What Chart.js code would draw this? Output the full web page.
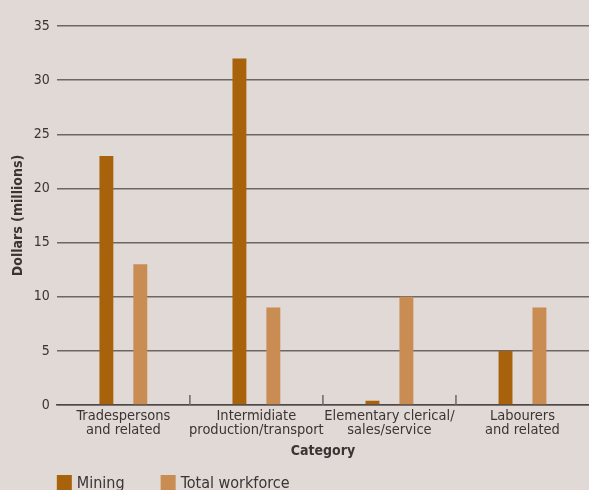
<!DOCTYPE html>
<html>
<head>
<meta charset="utf-8">
<script src="https://cdn.jsdelivr.net/npm/chart.js@4.4.0/dist/chart.umd.min.js"></script>
<style>
  html, body { margin: 0; padding: 0; background: #e0d9d6; overflow: hidden; }
  #wrap { width: 589px; height: 490px; position: relative; }
</style>
</head>
<body>
<div id="wrap"><canvas id="chart"></canvas></div>
<script>
// occupational categories and spend per group, $ millions
const categories = [
  ["Tradespersons", "and related"],
  ["Intermidiate", "production/transport"],
  ["Elementary clerical/", "sales/service"],
  ["Labourers", "and related"]
];
const miningValues = [23, 32, 0.4, 5];
const workforceValues = [13, 9, 10, 9];
const yTicks = [0, 5, 10, 15, 20, 25, 30, 35];

const fontName = "'DejaVu Sans Condensed', 'DejaVu Sans', sans-serif";
const textColor = "#3a3433";
const lineColor = "#6d6666";

// little upward marks on the baseline between categories
const categoryTicks = {
  id: "categoryTicks",
  afterDatasetsDraw(chart) {
    const x = chart.scales.x;
    const ctx = chart.ctx;
    const base = x.top;
    ctx.save();
    ctx.strokeStyle = lineColor;
    ctx.lineWidth = 1.5;
    for (let i = 1; i < categories.length; i++) {
      const px = (x.getPixelForTick(i - 1) + x.getPixelForTick(i)) / 2;
      ctx.beginPath();
      ctx.moveTo(px, base);
      ctx.lineTo(px, base - 10);
      ctx.stroke();
    }
    ctx.restore();
  }
};

// legend along the bottom edge, lined up with the plot's left side
const bottomLegend = {
  id: "bottomLegend",
  afterDraw(chart) {
    const ctx = chart.ctx;
    const box = 15;
    const top = chart.height - 15;
    let x = chart.chartArea.left;
    ctx.save();
    ctx.font = "16px " + fontName;
    ctx.textBaseline = "middle";
    chart.data.datasets.forEach(ds => {
      ctx.fillStyle = ds.backgroundColor;
      ctx.fillRect(x, top, box, box);
      const tx = x + box + 5;
      ctx.fillStyle = textColor;
      ctx.fillText(ds.label, tx, top + 9);
      x = tx + ctx.measureText(ds.label).width + 36;
    });
    ctx.restore();
  }
};

new Chart(document.getElementById("chart"), {
  type: "bar",
  data: {
    labels: categories,
    datasets: [
      {
        label: "Mining",
        data: miningValues,
        backgroundColor: "#a8620c",
        categoryPercentage: 0.51,
        barPercentage: 0.41
      },
      {
        label: "Total workforce",
        data: workforceValues,
        backgroundColor: "#c98c52",
        categoryPercentage: 0.51,
        barPercentage: 0.41
      }
    ]
  },
  options: {
    responsive: true,
    maintainAspectRatio: false,
    animation: false,
    layout: { padding: { left: 10, right: -2, top: 26, bottom: 30 } },
    plugins: {
      legend: { display: false },
      tooltip: { enabled: false }
    },
    scales: {
      x: {
        grid: { display: false, drawTicks: false },
        border: { color: "#4e4848", width: 1.5 },
        ticks: {
          color: textColor,
          font: { family: fontName, size: 14.5, lineHeight: 0.97 },
          padding: 4,
          maxRotation: 0,
          autoSkip: false
        },
        title: {
          display: true,
          text: "Category",
          color: textColor,
          font: { family: fontName, size: 14, weight: "bold" },
          padding: { top: 2, bottom: 0 }
        }
      },
      y: {
        min: 0,
        max: 35,
        afterBuildTicks(axis) {
          axis.ticks = yTicks.map(v => ({ value: v }));
        },
        grid: {
          color: lineColor,
          lineWidth: 1.5,
          drawTicks: false
        },
        border: { display: false },
        ticks: {
          color: textColor,
          font: { family: fontName, size: 14 },
          padding: 7
        },
        title: {
          display: true,
          text: "Dollars (millions)",
          color: textColor,
          font: { family: fontName, size: 14, weight: "bold" },
          padding: { top: 0, bottom: 0 }
        }
      }
    }
  },
  plugins: [categoryTicks, bottomLegend]
});
</script>
</body>
</html>
